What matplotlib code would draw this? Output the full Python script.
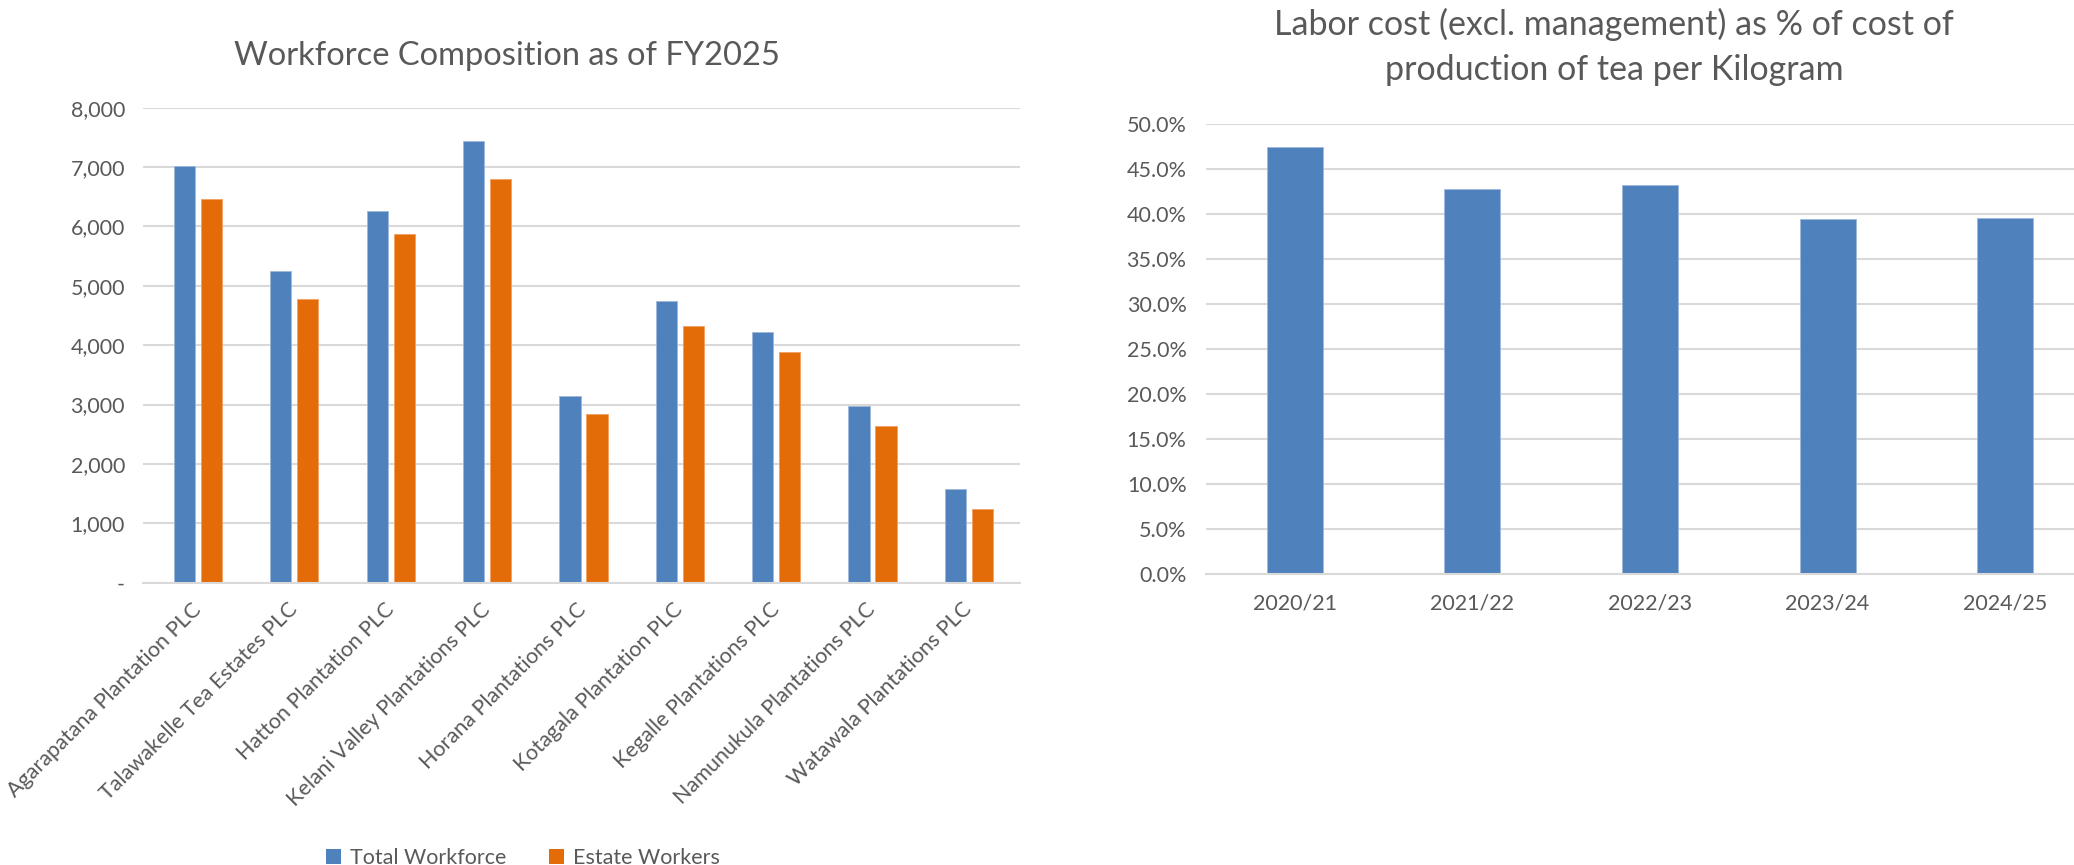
import numpy as np
import matplotlib
matplotlib.use("Agg")
import matplotlib.pyplot as plt
from matplotlib.patches import Patch
from matplotlib.ticker import FuncFormatter, MultipleLocator

plt.rcParams['font.family'] = ['Lato', 'DejaVu Sans']

# workforce data
companies = ["Agarapatana Plantation PLC", "Talawakelle Tea Estates PLC",
             "Hatton Plantation PLC", "Kelani Valley Plantations PLC",
             "Horana Plantations PLC", "Kotagala Plantation PLC",
             "Kegalle Plantations PLC", "Namunukula Plantations PLC",
             "Watawala Plantations PLC"]
total_workforce = [7015, 5242, 6258, 7431, 3143, 4742, 4226, 2970, 1583]
estate_workers = [6465, 4781, 5865, 6796, 2840, 4316, 3889, 2643, 1235]

# labor cost share
years = ["2020/21", "2021/22", "2022/23", "2023/24", "2024/25"]
labor_share = [0.4738, 0.4274, 0.4319, 0.3941, 0.3952]

BLUE = '#4F81BD'
ORANGE = '#E36C09'
GRID = '#D9D9D9'
TXT = '#595959'

W, H = 2074, 865
fig = plt.figure(figsize=(W / 100, H / 100), dpi=100)
fig.set_facecolor('white')


def style_axis(ax):
    for s in ['top', 'right', 'left']:
        ax.spines[s].set_visible(False)
    ax.spines['bottom'].set_color(GRID)
    ax.spines['bottom'].set_linewidth(1.5)
    ax.yaxis.grid(True, color=GRID, linewidth=1.5)
    ax.set_axisbelow(True)
    ax.tick_params(length=0, colors=TXT, labelsize=15.5)


# left chart
ax1 = fig.add_axes([143 / W, 1 - 582.7 / H, 877 / W, 475 / H])
x = np.arange(len(companies))
ax1.bar(x - 0.14, total_workforce, 0.22, color=BLUE, edgecolor='#9db8dc', linewidth=0.6)
ax1.bar(x + 0.14, estate_workers, 0.22, color=ORANGE, edgecolor='#f0a060', linewidth=0.6)
ax1.set_xlim(-0.57, len(companies) - 0.47)
ax1.set_ylim(0, 8000)
ax1.yaxis.set_major_locator(MultipleLocator(1000))
ax1.yaxis.set_major_formatter(FuncFormatter(lambda v, p: '-' if v == 0 else f'{v:,.0f}'))
style_axis(ax1)
ax1.tick_params(axis='y', pad=13)
ax1.set_xticks(x)
ax1.set_xticklabels(companies, rotation=45, ha='right', va='center', rotation_mode='anchor')
ax1.tick_params(axis='x', pad=17)

fig.text(507 / W, 1 - 56 / H, "Workforce Composition as of FY2025", ha='center', va='center',
         fontsize=23.5, color=TXT)

handles = [Patch(facecolor=BLUE), Patch(facecolor=ORANGE)]
fig.legend(handles, ["Total Workforce", "Estate Workers"], loc='center',
           bbox_to_anchor=(523 / W, 7 / H), ncol=2, frameon=False, fontsize=15.5,
           labelcolor=TXT, handlelength=0.7, handleheight=0.7, handletextpad=0.4,
           columnspacing=2.0)

# right chart
ax2 = fig.add_axes([1206 / W, 1 - 573.7 / H, 888 / W, 450 / H])
xr = np.arange(len(years))
ax2.bar(xr, labor_share, 0.316, color=BLUE, edgecolor='#9db8dc', linewidth=0.6)
ax2.set_xlim(-0.5, len(years) - 0.5)
ax2.set_ylim(0, 0.5)
ax2.yaxis.set_major_locator(MultipleLocator(0.05))
ax2.yaxis.set_major_formatter(FuncFormatter(lambda v, p: f'{v * 100:.1f}%'))
style_axis(ax2)
ax2.tick_params(axis='y', pad=14)
ax2.tick_params(axis='x', pad=14)
ax2.set_xticks(xr)
ax2.set_xticklabels(years)

fig.text(1614 / W, 1 - 47 / H,
         "Labor cost (excl. management) as % of cost of\nproduction of tea per Kilogram",
         ha='center', va='center', fontsize=24.5, color=TXT, linespacing=1.5)

fig.savefig('out.png', dpi=100, facecolor='white')
